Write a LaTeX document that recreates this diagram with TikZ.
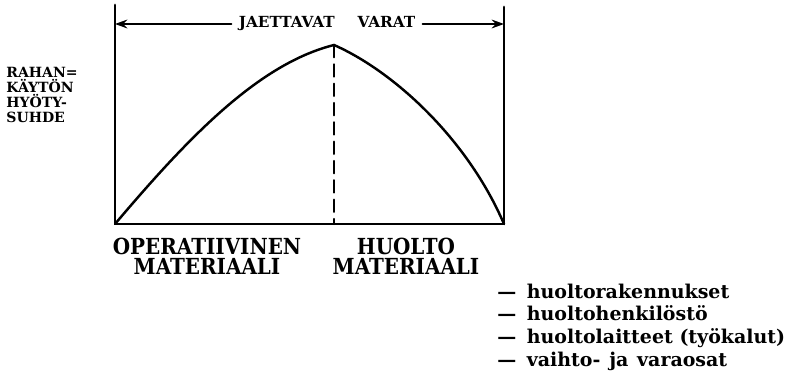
\documentclass[tikz,border=0pt]{standalone}
\usepackage{fontspec}
\setmainfont{DejaVu Serif}
\usetikzlibrary{arrows.meta}

\begin{document}
\begin{tikzpicture}[x=0.02cm, y=-0.02cm, line cap=round,
    axisline/.style={line width=1.6pt},
    curveline/.style={line width=1.4pt},
    spanarrow/.style={-{Stealth[length=7pt, width=5pt]}, line width=1.1pt},
    caplabel/.style={font=\bfseries\fontsize{8.7}{8.5}\selectfont, inner sep=0pt},
    matlabel/.style={font=\bfseries\fontsize{12.6}{11.3}\selectfont\addfontfeatures{FakeStretch=0.9},
      align=center, inner sep=0pt, anchor=north},
    legitem/.style={font=\bfseries\fontsize{10.8}{10}\selectfont, anchor=base west, inner sep=0pt}]
  \useasboundingbox (0,0) rectangle (791,375);
  % frame of the chart
  \coordinate (ltop) at (115,5);
  \coordinate (lbot) at (115,224);
  \coordinate (rtop) at (504,7);
  \coordinate (rbot) at (504,224);
  \coordinate (peak) at (334,45);
  \coordinate (mbot) at (334,224);
  \draw[axisline] (ltop) -- (lbot) -- (rbot) -- (rtop);
  % utility curve
  \draw[curveline] (lbot) .. controls (187,139) and (258,64) .. (peak)
    .. controls (393,71) and (467,138) .. (rbot);
  \draw[line width=1.3pt, dash pattern=on 7pt off 4pt] (peak) -- (mbot);
  % span over the top
  \node[caplabel] (span) at (327,24) {JAETTAVAT\hspace{13pt}VARAT};
  \draw[spanarrow] ([xshift=-4pt]span.west) -- (span.west -| ltop);
  \draw[spanarrow] ([xshift=4pt]span.east) -- (span.east -| rtop);
  % axis label
  \node[caplabel, anchor=north west, align=left, font=\bfseries\fontsize{8}{8.5}\selectfont]
    (ylab) at (6,67) {RAHAN=\\KÄYTÖN\\HYÖTY-\\SUHDE};
  % the two halves
  \node[matlabel] (oper) at (207,238) {OPERATIIVINEN\\MATERIAALI};
  \node[matlabel] (huol) at (406,238) {HUOLTO\\MATERIAALI};
  % list under the maintenance half
  \foreach \txt [count=\i] in {huoltorakennukset, huoltohenkilöstö,
      huoltolaitteet (työkalut), vaihto-\hspace{5pt}ja\hspace{5pt}varaosat}
    \node[legitem] (item\i) at (497,{298+22.7*(\i-1)}) {—\hspace{6pt}\txt};
\end{tikzpicture}
\end{document}
